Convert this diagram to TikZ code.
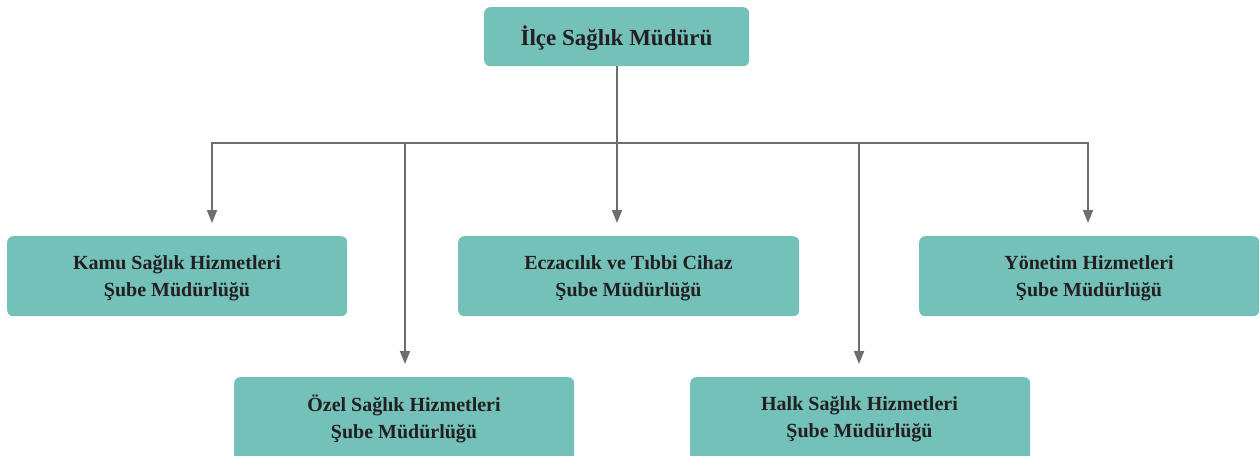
\documentclass[tikz,border=0pt]{standalone}
\usepackage{fontspec}
\setmainfont{Liberation Serif}
\usetikzlibrary{arrows.meta}
\definecolor{boxteal}{HTML}{73C1B9}
\definecolor{linegray}{HTML}{6D6E71}
\definecolor{textdark}{HTML}{231F20}
\tikzset{
  unitbox/.style={fill=boxteal, draw=none, rounded corners=6pt, anchor=north west,
    minimum width=340pt, minimum height=80pt, inner sep=0pt},
  headbox/.style={unitbox, minimum width=265pt, minimum height=59pt},
  unittext/.style={text=textdark, font=\bfseries\fontsize{20}{27}\selectfont, align=center, inner sep=0pt},
  headtext/.style={unittext, font=\bfseries\fontsize{23}{27}\selectfont},
  conn/.style={draw=linegray, line width=1.8pt},
  arr/.style={conn, -{Triangle[length=13pt,width=10pt]}}
}
\begin{document}
\begin{tikzpicture}[x=1pt,y=-1pt]
\useasboundingbox (0,0) rectangle (1260,455);
\clip (0,0) rectangle (1260,455);
\node[headbox] (top) at (484,7) {};
\node[unitbox] (kamu) at (7,236) {};
\node[unitbox, minimum width=341pt] (ecza) at (458,236) {};
\node[unitbox] (yon) at (919,236) {};
\node[unitbox, minimum height=100pt] (ozel) at (234,377) {};
\node[unitbox, minimum height=100pt] (halk) at (690,377) {};
\node[headtext] (toptxt) at (616.5,38.5) {İlçe Sağlık Müdürü};
\node[unittext] (kamutxt) at (177,278) {Kamu Sağlık Hizmetleri\\Şube Müdürlüğü};
\node[unittext] (eczatxt) at (628.5,278) {Eczacılık ve Tıbbi Cihaz\\Şube Müdürlüğü};
\node[unittext] (yontxt) at (1089,278) {Yönetim Hizmetleri\\Şube Müdürlüğü};
\node[unittext] (ozeltxt) at (404,419) {Özel Sağlık Hizmetleri\\Şube Müdürlüğü};
\node[unittext] (halktxt) at (859.5,419) {Halk Sağlık Hizmetleri\\Şube Müdürlüğü};
% bus
\coordinate (bus) at (617,143);
\coordinate (busL) at (212,143);
\coordinate (busR) at (1088,143);
\coordinate (bOzel) at (405,143);
\coordinate (bHalk) at (859,143);
\coordinate (eKamu) at (212,223);
\coordinate (eEcza) at (617,223);
\coordinate (eYon) at (1088,223);
\coordinate (eOzel) at (405,364);
\coordinate (eHalk) at (859,364);
\draw[conn] (top.south -| bus) -- (bus);
\draw[conn, line cap=rect] (busL) -- (busR);
\draw[arr] (busL) -- (eKamu);
\draw[arr] (bus) -- (eEcza);
\draw[arr] (busR) -- (eYon);
\draw[arr] (bOzel) -- (eOzel);
\draw[arr] (bHalk) -- (eHalk);
\end{tikzpicture}
\end{document}
